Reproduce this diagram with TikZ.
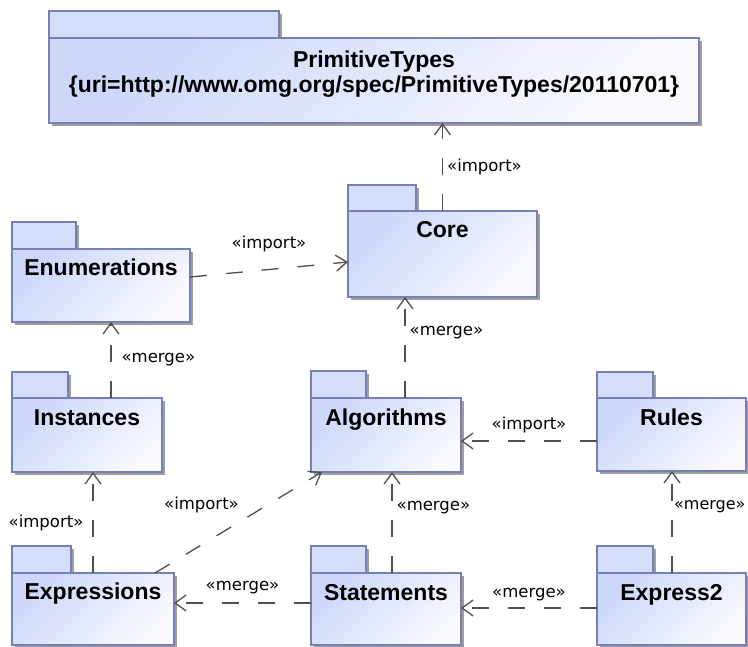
\documentclass[tikz,border=0pt]{standalone}
\usepackage{fontspec}
\setmainfont{Liberation Sans}
\newfontfamily\lblfont{DejaVu Sans}
\usetikzlibrary{arrows.meta,calc,shadows}
\definecolor{pkgborder}{RGB}{118,128,178}
\definecolor{pkgtop}{RGB}{204,215,250}
\definecolor{pkgbot}{RGB}{249,250,255}
\definecolor{tabfill}{RGB}{212,222,250}
\definecolor{depcol}{RGB}{80,80,80}
\tikzset{
  pkgshadow/.style={drop shadow={shadow xshift=3pt, shadow yshift=-3pt, fill=black!38, opacity=1}},
  pkgtab/.style={draw=pkgborder, line width=1.2pt, fill=tabfill, inner sep=0pt, outer sep=0pt, anchor=north west, pkgshadow},
  pkgbody/.style={draw=pkgborder, line width=1.2pt, top color=pkgtop, bottom color=pkgbot, shading angle=45, inner sep=0pt, outer sep=0pt, anchor=north west, pkgshadow},
  title/.style={font=\bfseries\fontsize{23}{27}\selectfont, anchor=base, inner sep=0pt},
  lbl/.style={font=\lblfont\fontsize{16.5}{19}\selectfont, inner sep=0pt, text=black},
  dep/.style={draw=depcol, line width=1.3pt, dash pattern=on 17pt off 19pt, -{Straight Barb[length=11pt,width=16pt]}},
}
\begin{document}
\begin{tikzpicture}[x=1pt, y=-1pt]
\useasboundingbox (0,0) rectangle (748,647);
% PrimitiveTypes
\node[pkgtab, minimum width=230pt, minimum height=27pt] (ptT) at (49,11) {};
\node[pkgbody, minimum width=650pt, minimum height=85pt] (pt) at (49,38) {};
\node[title] (ptTitle) at ($(pt.north)+(0,30)$) {PrimitiveTypes};
\node[title] (ptUri) at ($(pt.north)+(0,55)$) {\{uri=http://www.omg.org/spec/PrimitiveTypes/20110701\}};
% Core
\node[pkgtab, minimum width=68pt, minimum height=26pt] (coreT) at (348,185) {};
\node[pkgbody, minimum width=189pt, minimum height=86pt] (core) at (348,211) {};
\node[title] (coreTitle) at ($(core.north)+(0,27)$) {Core};
% Enumerations
\node[pkgtab, minimum width=64pt, minimum height=27pt] (enumT) at (12,222) {};
\node[pkgbody, minimum width=178pt, minimum height=73pt] (enum) at (12,249) {};
\node[title] (enumTitle) at ($(enum.north)+(0,27)$) {Enumerations};
% Instances
\node[pkgtab, minimum width=56pt, minimum height=26pt] (instT) at (12,372) {};
\node[pkgbody, minimum width=150pt, minimum height=74pt] (inst) at (12,398) {};
\node[title] (instTitle) at ($(inst.north)+(0,27)$) {Instances};
% Algorithms
\node[pkgtab, minimum width=55pt, minimum height=27pt] (algT) at (311,371) {};
\node[pkgbody, minimum width=150pt, minimum height=74pt] (alg) at (311,398) {};
\node[title] (algTitle) at ($(alg.north)+(0,27)$) {Algorithms};
% Rules
\node[pkgtab, minimum width=56pt, minimum height=26pt] (rulesT) at (597,372) {};
\node[pkgbody, minimum width=149pt, minimum height=73pt] (rules) at (597,398) {};
\node[title] (rulesTitle) at ($(rules.north)+(0,27)$) {Rules};
% Expressions
\node[pkgtab, minimum width=59pt, minimum height=27pt] (exprT) at (12,546) {};
\node[pkgbody, minimum width=162pt, minimum height=72pt] (expr) at (12,573) {};
\node[title] (exprTitle) at ($(expr.north)+(0,26)$) {Expressions};
% Statements
\node[pkgtab, minimum width=55pt, minimum height=27pt] (statT) at (311,546) {};
\node[pkgbody, minimum width=150pt, minimum height=72pt] (stat) at (311,573) {};
\node[title] (statTitle) at ($(stat.north)+(0,27)$) {Statements};
% Express2
\node[pkgtab, minimum width=56pt, minimum height=27pt] (ex2T) at (597,546) {};
\node[pkgbody, minimum width=149pt, minimum height=72pt] (ex2) at (597,573) {};
\node[title] (ex2Title) at ($(ex2.north)+(0,27)$) {Express2};
% connectors
\draw[dep] (core.north) -- (core.north |- pt.south) node[lbl, pos=0.5, right=4pt] (l1) {«import»};
\draw[dep] ($(enum.north east)+(0,28)$) -- ($(core.north west)+(0,51)$) node[lbl, midway, yshift=26pt] (l2) {«import»};
\coordinate (a3) at ($(inst.north west)+(99,0)$);
\draw[dep] (a3) -- (a3 |- enum.south) node[lbl, pos=0.5, right=10pt] (l3) {«merge»};
\coordinate (a4) at ($(alg.north west)+(94,0)$);
\draw[dep] (a4) -- (a4 |- core.south) node[lbl, pos=0.65, right=4pt] (l4) {«merge»};
\draw[dep] ($(rules.north west)+(0,43)$) -- ($(alg.north east)+(0,43)$) node[lbl, midway, yshift=16pt] (l5) {«import»};
\coordinate (a6) at ($(expr.north west)+(81,0)$);
\draw[dep] (a6) -- (a6 |- inst.south) node[lbl, midway, left=9pt] (l6) {«import»};
\draw[dep] ($(expr.north west)+(143,0)$) -- ($(alg.south west)+(11,0)$) node[lbl, midway, xshift=-37pt, yshift=18pt] (l7) {«import»};
\coordinate (a8) at ($(stat.north west)+(81,0)$);
\draw[dep] (a8) -- (a8 |- alg.south) node[lbl, pos=0.65, right=4pt] (l8) {«merge»};
\draw[dep] ($(stat.north west)+(0,30)$) -- ($(expr.north east)+(0,30)$) node[lbl, midway, yshift=15pt] (l9) {«merge»};
\coordinate (a10) at ($(ex2.north west)+(75,0)$);
\draw[dep] (a10) -- (a10 |- rules.south) node[lbl, pos=0.65, right=1.5pt, font=\lblfont\fontsize{16}{19}\selectfont] (l10) {«merge»};
\draw[dep] ($(ex2.north west)+(0,35)$) -- ($(stat.north east)+(0,35)$) node[lbl, midway, yshift=13pt] (l11) {«merge»};
\end{tikzpicture}
\end{document}
